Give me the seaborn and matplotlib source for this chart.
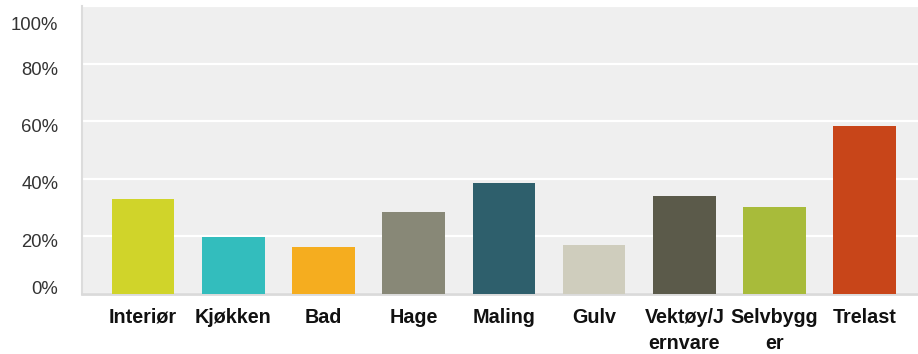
import matplotlib
matplotlib.use("Agg")
import matplotlib.pyplot as plt
from matplotlib.transforms import ScaledTranslation
import seaborn as sns
import pandas as pd

categories = ["Interiør", "Kjøkken", "Bad", "Hage", "Maling", "Gulv",
              "Vektøy/J\nernvare", "Selvbygg\ner", "Trelast"]
values = [33.1, 19.9, 16.2, 28.5, 38.7, 17.1, 34.1, 30.2, 58.5]
colors = ["#d0d42a", "#33bdbd", "#f5ad1f", "#888877", "#2e5f6c",
          "#cfcdbd", "#5b5a4a", "#a8bb3a", "#c84519"]
yticks = [0, 20, 40, 60, 80, 100]
ytick_labels = ["0%", "20%", "40%", "60%", "80%", "100%"]

sns.set_style("white")
plt.rcParams["font.family"] = ["Liberation Sans", "DejaVu Sans"]

df = pd.DataFrame({"cat": categories, "val": values})

fig = plt.figure(figsize=(9.18, 3.54), dpi=100)
ax = fig.add_axes([82 / 918, 60 / 354, 1 - 82 / 918, (294 - 6) / 354])
ax.set_facecolor("#efefef")

sns.barplot(data=df, x="cat", y="val", hue="cat", palette=colors,
            legend=False, width=0.695, ax=ax, zorder=3, saturation=1,
            edgecolor="none", linewidth=0)

ax.set_ylim(0, 100)
ax.set_xlim(-0.676, 8.59)
ax.set_yticks(yticks)
ax.set_yticklabels(ytick_labels, fontsize=13.3, color="#333333")
ax.yaxis.grid(True, color="white", linewidth=1.6, zorder=1)
ax.set_axisbelow(True)
ax.tick_params(axis="both", length=0)
ax.tick_params(axis="y", pad=17)
ax.tick_params(axis="x", pad=10)
for lab in ax.get_xticklabels():
    lab.set_fontsize(14.2)
    lab.set_fontweight("bold")
    lab.set_color("#111111")
    lab.set_linespacing(1.45)
    lab.set_verticalalignment("top")

# small offsets of y labels as in the reference
offsets = {0: 6, 20: -4, 40: -4, 60: -4, 80: -5, 100: -17}
for val, lab in zip(yticks, ax.get_yticklabels()):
    dy = offsets[val]
    lab.set_transform(lab.get_transform() +
                      ScaledTranslation(0, dy / 100, fig.dpi_scale_trans))

ax.set_xlabel("")
ax.set_ylabel("")
for s in ["top", "right"]:
    ax.spines[s].set_visible(False)
ax.spines["left"].set_color("#dcdcdc")
ax.spines["left"].set_linewidth(1.5)
ax.spines["bottom"].set_color("#dadada")
ax.spines["bottom"].set_linewidth(2)

fig.savefig("out.png", dpi=100, facecolor="white")
